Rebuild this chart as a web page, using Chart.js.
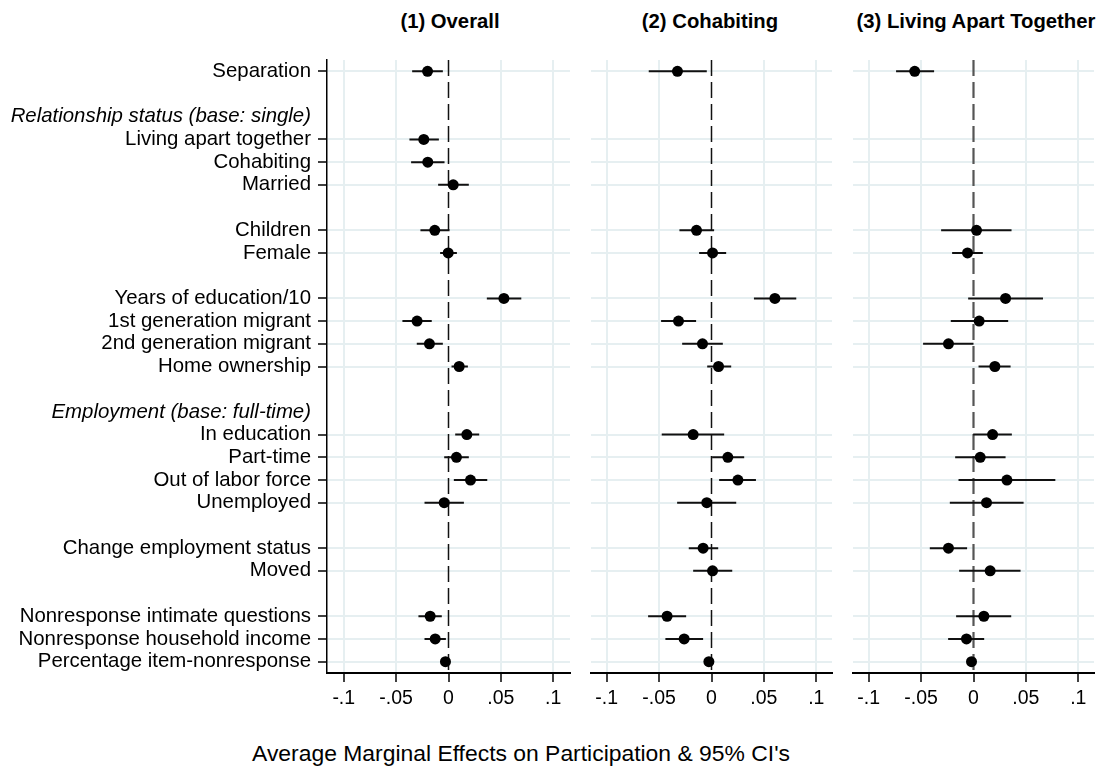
<!DOCTYPE html>
<html>
<head>
<meta charset="utf-8">
<script src="https://cdn.jsdelivr.net/npm/chart.js@4.4.1/dist/chart.umd.min.js"></script>
<style>
  body { margin:0; background:#fff; font-family:'Liberation Sans', Arial, sans-serif; }
  #wrap { position:relative; width:1105px; height:767px; overflow:hidden; }
  .box { position:absolute; top:0; }
  .ttl { position:absolute; top:11px; width:320px; text-align:center; font-weight:bold; font-size:20.3px; line-height:1; color:#000; }
  #xttl { position:absolute; top:742px; left:171px; width:700px; text-align:center; font-size:22.9px; line-height:1; color:#000; }
</style>
</head>
<body>
<div id="wrap">
  <div class="ttl" style="left:290px">(1) Overall</div>
  <div class="ttl" style="left:550px">(2) Cohabiting</div>
  <div class="ttl" style="left:816px">(3) Living Apart Together</div>
  <div class="box" style="left:0px"><canvas id="c1" width="580" height="710"></canvas></div>
  <div class="box" style="left:571px"><canvas id="c2" width="271" height="710"></canvas></div>
  <div class="box" style="left:833px"><canvas id="c3" width="272" height="710"></canvas></div>
  <div id="xttl">Average Marginal Effects on Participation &amp; 95% CI's</div>
</div>
<script>
// rows of the plot, top to bottom ('' = spacer row)
const rows = [
  'Separation', '',
  'Relationship status (base: single)', 'Living apart together', 'Cohabiting', 'Married', '',
  'Children', 'Female', '',
  'Years of education/10', '1st generation migrant', '2nd generation migrant', 'Home ownership', '',
  'Employment (base: full-time)', 'In education', 'Part-time', 'Out of labor force', 'Unemployed', '',
  'Change employment status', 'Moved', '',
  'Nonresponse intimate questions', 'Nonresponse household income', 'Percentage item-nonresponse'
];
const headerRows = ['Relationship status (base: single)', 'Employment (base: full-time)'];

const xTicks = [-0.1, -0.05, 0, 0.05, 0.1];
const xTickLabels = ['-.1', '-.05', '0', '.05', '.1'];

// (1) Overall
const est1 = [-0.0200, null, null, -0.0236, -0.0198, 0.0045, null, -0.0131, -0.0003, null, 0.0529, -0.0300, -0.0182, 0.0102, null, null, 0.0175, 0.0076, 0.0210, -0.0041, null, null, null, null, -0.0175, -0.0127, -0.0029];
const lo1  = [-0.0347, null, null, -0.0373, -0.0357, -0.0099, null, -0.0268, -0.0080, null, 0.0366, -0.0440, -0.0303, 0.0029, null, null, 0.0064, -0.0041, 0.0051, -0.0229, null, null, null, null, -0.0287, -0.0229, -0.0045];
const hi1  = [-0.0054, null, null, -0.0092, -0.0038, 0.0194, null, 0.0010, 0.0080, null, 0.0695, -0.0160, -0.0054, 0.0185, null, null, 0.0293, 0.0194, 0.0370, 0.0147, null, null, null, null, -0.0064, -0.0025, -0.0013];

// (2) Cohabiting
const est2 = [-0.0325, null, null, null, null, null, null, -0.0143, 0.0010, null, 0.0605, -0.0315, -0.0086, 0.0067, null, null, -0.0175, 0.0156, 0.0252, -0.0045, null, -0.0080, 0.0010, null, -0.0424, -0.0261, -0.0025];
const lo2  = [-0.0599, null, null, null, null, null, null, -0.0306, -0.0118, null, 0.0405, -0.0481, -0.0280, -0.0041, null, null, -0.0475, 0.0006, 0.0073, -0.0328, null, -0.0217, -0.0175, null, -0.0605, -0.0440, -0.0040];
const hi2  = [-0.0045, null, null, null, null, null, null, 0.0025, 0.0140, null, 0.0809, -0.0147, 0.0108, 0.0188, null, null, 0.0121, 0.0312, 0.0424, 0.0236, null, 0.0064, 0.0198, null, -0.0242, -0.0080, -0.0010];

// (3) Living Apart Together
const est3 = [-0.0561, null, null, null, null, null, null, 0.0029, -0.0057, null, 0.0306, 0.0054, -0.0239, 0.0204, null, null, 0.0182, 0.0064, 0.0319, 0.0124, null, -0.0239, 0.0159, null, 0.0099, -0.0067, -0.0019];
const lo3  = [-0.0739, null, null, null, null, null, null, -0.0309, -0.0204, null, -0.0051, -0.0217, -0.0481, 0.0048, null, null, -0.0003, -0.0175, -0.0143, -0.0226, null, -0.0417, -0.0137, null, -0.0166, -0.0242, -0.0034];
const hi3  = [-0.0376, null, null, null, null, null, null, 0.0363, 0.0089, null, 0.0663, 0.0331, 0.0000, 0.0354, null, null, 0.0366, 0.0306, 0.0781, 0.0478, null, -0.0061, 0.0449, null, 0.0360, 0.0102, -0.0004];

const gridColor = '#e6eff1';
const fontFamily = "'Liberation Sans', Arial, sans-serif";
Chart.defaults.font.family = fontFamily;
Chart.defaults.color = '#000';

// rows that get a tick (variables and headers)
const tickRows = [];
rows.forEach((r, i) => { if (r !== '') tickRows.push(i); });
const isHeader = (v) => headerRows.includes(rows[v]);

function pointsOf(est) {
  const out = [];
  est.forEach((v, i) => { if (v !== null) out.push({x: v, y: i}); });
  return out;
}

// CI segments, separated by gaps
function ciOf(lo, hi) {
  const out = [];
  lo.forEach((v, i) => {
    if (v !== null) {
      out.push({x: v, y: i}, {x: hi[i], y: i}, {x: null, y: null});
    }
  });
  return out;
}

function makePanel(id, est, lo, hi, opt) {
  const yAxis = {
    type: 'linear',
    reverse: true,
    min: -0.5,
    max: 26.5,
    afterBuildTicks: (s) => { s.ticks = tickRows.map(v => ({value: v})); },
    afterFit: (s) => { s.width = opt.yWidth; },
    ticks: {
      display: opt.showLabels,
      autoSkip: false,
      padding: 7,
      color: '#000',
      font: (ctx) => ({family: fontFamily, size: 20.4, style: (ctx.tick && isHeader(ctx.tick.value)) ? 'italic' : 'normal'}),
      callback: (v) => rows[v]
    },
    grid: {
      color: (ctx) => (ctx.tick && isHeader(ctx.tick.value)) ? 'rgba(0,0,0,0)' : gridColor,
      lineWidth: 2,
      drawTicks: opt.showLabels,
      tickLength: 9,
      tickWidth: 1.5,
      tickColor: (ctx) => (ctx.tick && isHeader(ctx.tick.value)) ? 'rgba(0,0,0,0)' : '#000'
    },
    border: { display: opt.showLabels, color: '#000', width: 1.5 }
  };

  return new Chart(document.getElementById(id), {
    type: 'scatter',
    data: {
      datasets: [
        {
          // zero line
          data: [{x: 0, y: -0.5}, {x: 0, y: 26.5}],
          showLine: true,
          borderColor: opt.zeroColor,
          borderWidth: opt.zeroWidth,
          borderDash: [16, 6],
          pointRadius: 0,
          order: 3
        },
        {
          data: ciOf(lo, hi),
          showLine: true,
          spanGaps: false,
          borderColor: '#111',
          borderWidth: 2,
          pointRadius: 0,
          order: 2
        },
        {
          data: pointsOf(est),
          backgroundColor: '#000',
          borderWidth: 0,
          pointRadius: 5.5,
          order: 1
        }
      ]
    },
    options: {
      responsive: false,
      animation: false,
      events: [],
      layout: { padding: {left: opt.padLeft, right: opt.padRight, top: 60, bottom: 0} },
      plugins: { legend: {display: false}, tooltip: {enabled: false} },
      scales: {
        x: {
          type: 'linear',
          min: -opt.range,
          max: opt.range,
          afterBuildTicks: (s) => { s.ticks = xTicks.map(v => ({value: v})); },
          afterFit: (s) => { s.height = 37; },
          ticks: {
            autoSkip: false,
            maxRotation: 0,
            padding: 5,
            color: '#000',
            font: {size: 19.5},
            callback: (v) => xTickLabels[xTicks.indexOf(v)]
          },
          grid: {
            color: (ctx) => (ctx.tick && ctx.tick.value === 0) ? 'rgba(0,0,0,0)' : gridColor,
            lineWidth: 2,
            tickLength: 9,
            tickWidth: 1.5,
            tickColor: '#000'
          },
          border: { color: '#000', width: 2 }
        },
        y: yAxis
      }
    }
  });
}

makePanel('c1', est1, lo1, hi1, {yWidth: 327, showLabels: true, padLeft: 0, padRight: 10, range: 0.116, zeroColor: '#111', zeroWidth: 1.5});
makePanel('c2', est2, lo2, hi2, {yWidth: 0, showLabels: false, padLeft: 20, padRight: 10, range: 0.115, zeroColor: '#111', zeroWidth: 1.5});
makePanel('c3', est3, lo3, hi3, {yWidth: 0, showLabels: false, padLeft: 20, padRight: 11, range: 0.115, zeroColor: '#555', zeroWidth: 2.2});
</script>
</body>
</html>
